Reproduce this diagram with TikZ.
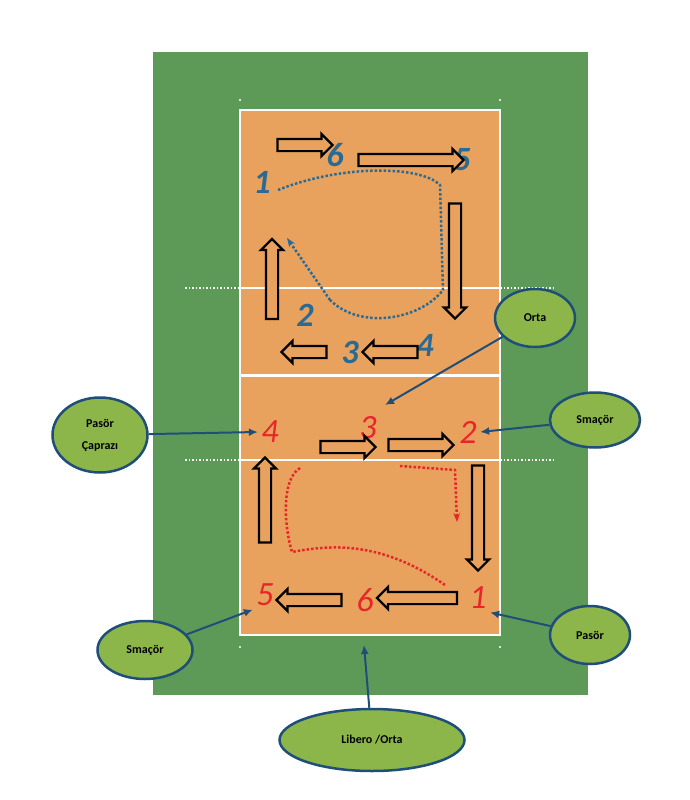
\documentclass[tikz,border=0pt]{standalone}
\usepackage{fontspec}
\setmainfont{Carlito}
\usetikzlibrary{shapes.arrows,shapes.geometric,arrows.meta}
\definecolor{saha}{HTML}{5E9A57}
\definecolor{kort}{HTML}{E9A25E}
\definecolor{balon}{HTML}{8DB64A}
\definecolor{kenar}{HTML}{1F4E79}
\definecolor{mavi}{HTML}{2B6A93}
\definecolor{kirmizi}{HTML}{E8262A}
\tikzset{
  etiket/.style={ellipse, draw=kenar, line width=2.5pt, fill=balon, font=\bfseries\fontsize{12}{14}\selectfont, align=center},
  ok/.style={-{Latex[length=9pt,width=8pt]}, kenar, line width=2pt},
  blok/.style={single arrow, draw=black, line width=2.2pt, fill=kort, minimum height=#1, single arrow head extend=5pt, inner sep=5pt},
  mavino/.style={text=mavi, font=\fontsize{34}{34}\selectfont\itshape\bfseries},
  kirmizino/.style={text=kirmizi, font=\fontsize{34}{34}\selectfont\itshape},
}
\begin{document}
\begin{tikzpicture}[x=1pt,y=-1pt]
  \useasboundingbox (0,0) rectangle (689,800);
  \fill[white] (0,0) rectangle (689,800);
  % Saha
  \fill[saha] (153,52) rectangle (588,695);
  \fill[kort] (240,110) rectangle (500,635);
  \draw[white, line width=1.5pt] (240,110) rectangle (500,635);
  \draw[white, line width=3pt] (240,375) -- (500,375);
  \draw[white, line width=1.5pt] (240,288) -- (500,288) (240,460) -- (500,460);
  \draw[white, line width=1.5pt, dotted] (185,288) -- (240,288) (500,288) -- (555,288)
    (185,460) -- (240,460) (500,460) -- (555,460);
  \foreach \x in {240,500} {
    \fill[white] (\x,100) circle (1.2pt);
    \fill[white] (\x,647) circle (1.2pt);
  }

  % Mavi takim
  \draw[mavi, line width=2.5pt, dotted] (278,190) .. controls (340,165) and (420,165) .. (440,185)
    -- (443,290) .. controls (420,320) and (360,330) .. (330,300);
  \draw[mavi, line width=2.5pt, dotted, -{Stealth[length=9pt]}] (330,300) -- (287,238);
  \node[mavino] (m1) at (262,182) {1};
  \node[mavino] (m6) at (335,155) {6};
  \node[mavino] (m5) at (462,160) {5};
  \node[mavino] (m2) at (305,315) {2};
  \node[mavino] (m3) at (350,352) {3};
  \node[mavino] (m4) at (425,345) {4};
  \node[blok=55pt] at (302,145) {};
  \node[blok=105pt] at (408,160) {};
  \node[blok=115pt, shape border rotate=270] at (455,258) {};
  \node[blok=80pt, shape border rotate=90] at (272,282) {};
  \node[blok=45pt, shape border rotate=180] at (307,352) {};
  \node[blok=55pt, shape border rotate=180] at (393,352) {};

  % Kirmizi takim
  \draw[kirmizi, line width=2.5pt, dotted, -{Stealth[length=9pt]}] (400,466) -- (455,470) -- (457,522);
  \draw[kirmizi, line width=2.5pt, dotted] (300,468) .. controls (280,480) and (285,530) .. (292,552)
    .. controls (330,545) and (380,540) .. (445,585);
  \node[kirmizino] (r4) at (270,432) {4};
  \node[kirmizino] (r3) at (368,428) {3};
  \node[kirmizino] (r2) at (468,432) {2};
  \node[kirmizino] (r1) at (478,598) {1};
  \node[kirmizino] (r6) at (365,600) {6};
  \node[kirmizino] (r5) at (265,595) {5};
  \node[blok=55pt] at (345,447) {};
  \node[blok=65pt] at (418,445) {};
  \node[blok=105pt, shape border rotate=270] at (478,515) {};
  \node[blok=85pt, shape border rotate=90] at (265,503) {};
  \node[blok=65pt, shape border rotate=180] at (312,600) {};
  \node[blok=80pt, shape border rotate=180] at (420,598) {};

  % Etiketler
  \node[etiket, minimum width=80pt, minimum height=58pt] (orta) at (535,318) {Orta};
  \node[etiket, minimum width=95pt, minimum height=75pt] (pasorc) at (100,435) {Pasör\\[8pt]Çaprazı};
  \node[etiket, minimum width=90pt, minimum height=55pt] (smacr) at (595,420) {Smaçör};
  \node[etiket, minimum width=95pt, minimum height=58pt] (smacl) at (145,650) {Smaçör};
  \node[etiket, minimum width=80pt, minimum height=58pt] (pasor) at (590,635) {Pasör};
  \node[etiket, minimum width=185pt, minimum height=62pt] (libero) at (372,740) {Libero /Orta};
  \coordinate (o1) at (385,405);
  \draw[ok] (orta) -- (o1);
  \draw[ok] (pasorc) -- (r4.west);
  \draw[ok] (smacr) -- (r2.east);
  \draw[ok] (smacl) -- (r5.south west);
  \draw[ok] (pasor) -- (r1.south east);
  \draw[ok] (libero) -- ++(-8,-95);
\end{tikzpicture}
\end{document}
